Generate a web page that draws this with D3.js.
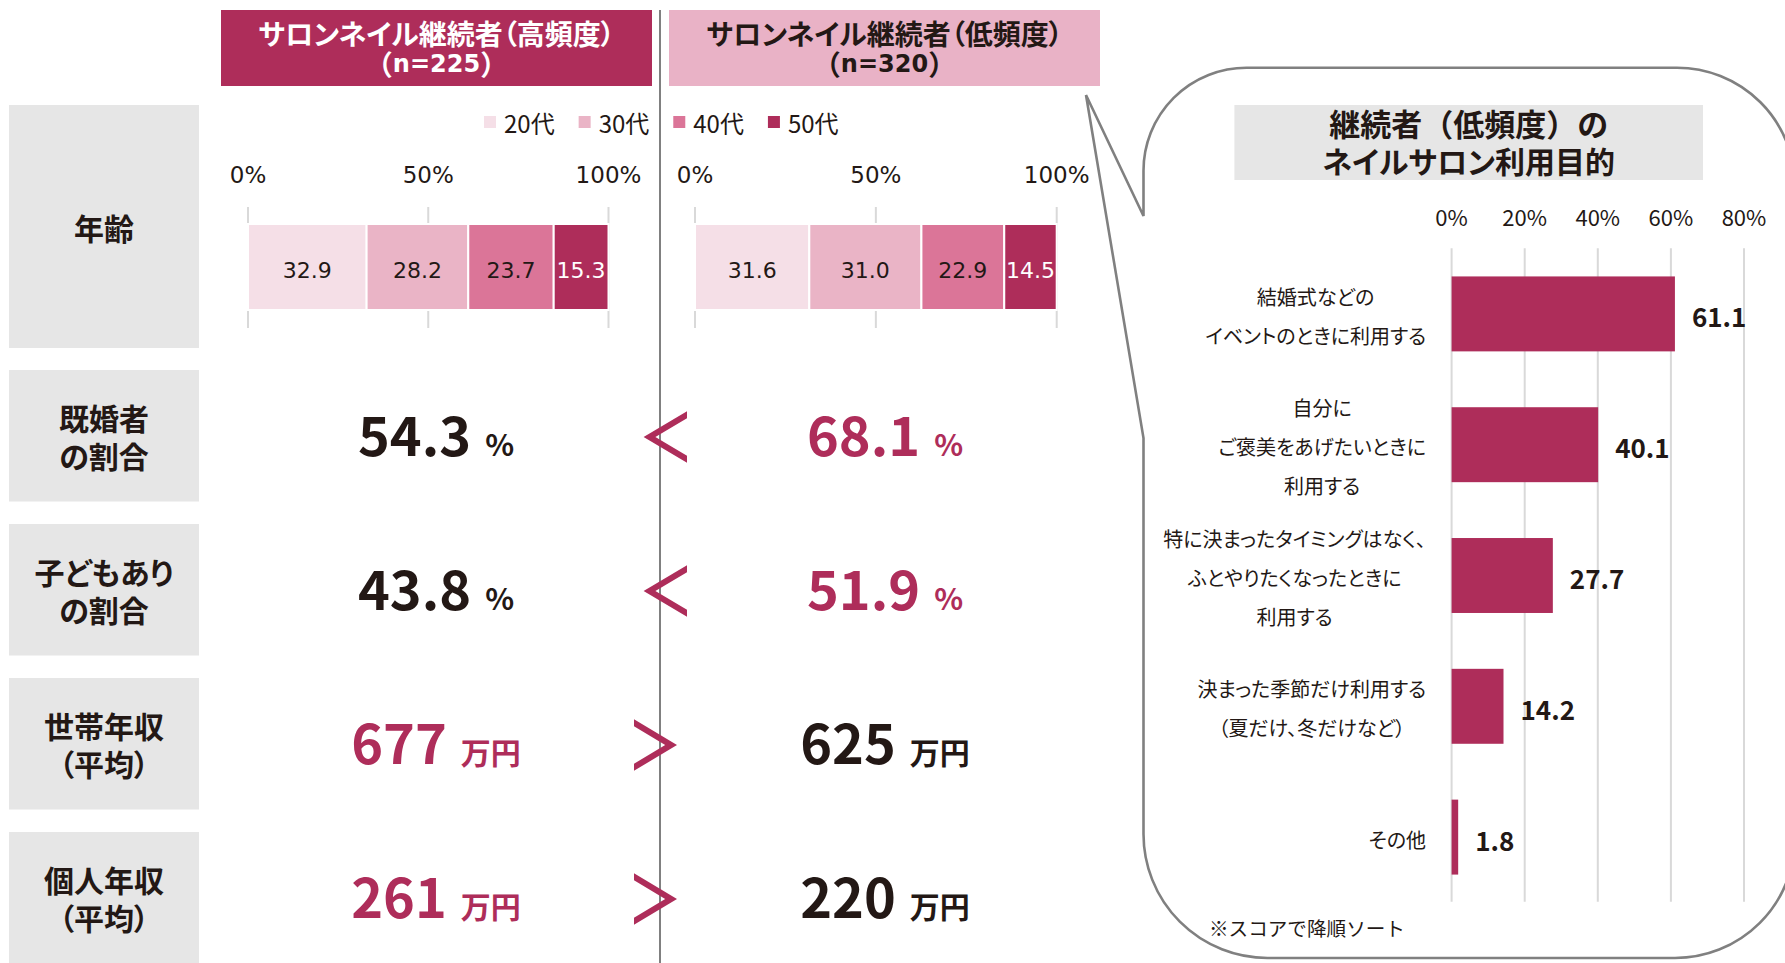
<!DOCTYPE html>
<html><head><meta charset="utf-8">
<script src="https://cdn.jsdelivr.net/npm/d3@7"></script>
<style>
html,body{margin:0;padding:0;background:#fff;}
svg{display:block;font-family:"Noto Sans CJK JP","Noto Sans",sans-serif;font-feature-settings:"palt";}
.nopalt{font-feature-settings:normal;}
</style></head><body>
<svg id="c" width="1785" height="963"></svg>
<script>
// ---------- data ----------
const groupTitles = [["サロンネイル継続者（高頻度）","（n=225）"],["サロンネイル継続者（低頻度）","（n=320）"]];
const ageGroups = ["20代","30代","40代","50代"];
const ageHigh = [32.9,28.2,23.7,15.3];
const ageLow = [31.6,31.0,22.9,14.5];
const ageTicks = [0,50,100];
const rowLabels = [["年齢"],["既婚者","の割合"],["子どもあり","の割合"],["世帯年収","（平均）"],["個人年収","（平均）"]];
const highValues = [54.3,43.8,677,261];
const lowValues = [68.1,51.9,625,220];
const valueUnits = ["%","%","万円","万円"];
const purposeTitle = ["継続者（低頻度）の","ネイルサロン利用目的"];
const purposeLabels = [["結婚式などの","イベントのときに利用する"],["自分に","ご褒美をあげたいときに","利用する"],["特に決まったタイミングはなく、","ふとやりたくなったときに","利用する"],["決まった季節だけ利用する","（夏だけ、冬だけなど）"],["その他"]];
const purposeValues = [61.1,40.1,27.7,14.2,1.8];
const purposeTicks = [0,20,40,60,80];
const footnote = "※スコアで降順ソート";

// ---------- style ----------
const DARK="#231815", CRIM="#ae2d5a", PINK="#e9b2c6", BOXG="#e6e6e6", LINE="#808080", GRID="#d9d9d9";
const ageColors=["#f5dfe7","#eab4c6","#db7598","#ae2d5a"];
const NUMF='"DejaVu Sans",Verdana,sans-serif';

const svg=d3.select("#c");

// multi-line text helper: one <text> with tspans, block centred on cy
function multiText(parent,lines,x,cy,lh){
  const t=parent.append("text").attr("text-anchor","middle");
  const n=lines.length;
  lines.forEach((s,j)=>t.append("tspan").attr("x",x).attr("y",cy+(j-(n-1)/2)*lh)
    .attr("dominant-baseline","central").text(s));
  return t;
}

// ---------- divider ----------
svg.append("line").attr("x1",660).attr("x2",660).attr("y1",10).attr("y2",963)
  .attr("stroke",LINE).attr("stroke-width",2);

// ---------- speech bubble ----------
(function(){
  const L=1143.5,T=67.7,R=1795,B=958, tip=[1086,95];
  const p=d3.path();
  p.moveTo(L,216);
  p.lineTo(L,T+103);
  p.arcTo(L,T,L+103,T,103);
  p.lineTo(R-118,T);
  p.arcTo(R,T,R,T+118,118);
  p.lineTo(R,B-120);
  p.arcTo(R,B,R-120,B,120);
  p.lineTo(L+124,B);
  p.arcTo(L,B,L,B-124,124);
  p.lineTo(L,438);
  p.lineTo(tip[0],tip[1]);
  p.closePath();
  svg.append("path").attr("d",p.toString()).attr("fill","none")
    .attr("stroke",LINE).attr("stroke-width",2.6).attr("stroke-linejoin","miter");
})();

// ---------- group headers ----------
const hdrX=[221,669], hdrW=431;
groupTitles.forEach((t,i)=>{
  const cx=hdrX[i]+hdrW/2, col=i===0?"#fff":DARK;
  svg.append("rect").attr("x",hdrX[i]).attr("y",10).attr("width",hdrW).attr("height",76)
    .attr("fill",i===0?CRIM:PINK);
  svg.append("text").attr("x",cx).attr("y",33).attr("text-anchor","middle").attr("dominant-baseline","central")
    .attr("font-size",28).attr("font-weight",700).attr("fill",col).text(t[0]);
  const m=t[1].match(/^（(.*)）$/);
  const t2=svg.append("text").attr("class","nopalt").attr("x",cx).attr("y",64).attr("text-anchor","middle")
    .attr("dominant-baseline","central").attr("font-size",28).attr("font-weight",700).attr("fill",col);
  if(m){
    t2.append("tspan").text("（");
    t2.append("tspan").attr("font-family",NUMF).attr("font-size",24).text(m[1]);
    t2.append("tspan").text("）");
  } else t2.text(t[1]);
});

// ---------- legend ----------
(function(){
  let x=484;
  ageGroups.forEach((g,i)=>{
    svg.append("rect").attr("x",x).attr("y",116).attr("width",12).attr("height",12).attr("fill",ageColors[i]);
    const t=svg.append("text").attr("x",x+20).attr("y",122).attr("dominant-baseline","central")
      .attr("font-size",24).attr("fill",DARK).text(g);
    x+=20+t.node().getComputedTextLength()+24;
  });
})();

// ---------- row label boxes ----------
const rowBoxes=[[105,243]].concat(d3.range(4).map(i=>[370+i*154,131.5]));
rowLabels.forEach((lab,i)=>{
  const [y,h]=rowBoxes[i];
  svg.append("rect").attr("x",9).attr("y",y).attr("width",190).attr("height",h).attr("fill",BOXG);
  multiText(svg,lab,104,y+h/2,38.5)
    .attr("font-size",30).attr("font-weight",700).attr("fill",DARK);
});

// ---------- age stacked bars ----------
const ageRanges=[[248,608.5],[695,1056.7]];
[ageHigh,ageLow].forEach((vals,gi)=>{
  const x=d3.scaleLinear().domain([0,100]).range(ageRanges[gi]);
  const g=svg.append("g");
  g.selectAll("line.grid").data(ageTicks).join("line")
    .attr("x1",d=>x(d)).attr("x2",d=>x(d)).attr("y1",207).attr("y2",328)
    .attr("stroke",GRID).attr("stroke-width",2);
  g.selectAll("text.tick").data(ageTicks).join("text")
    .attr("x",d=>x(d)).attr("y",175).attr("text-anchor","middle").attr("dominant-baseline","central")
    .attr("font-family",NUMF).attr("font-size",23).attr("fill",DARK).text(d=>d+"%");
  const cum=d3.cumsum(vals), starts=vals.map((v,i)=>cum[i]-v);
  const segs=vals.map((v,i)=>({v,s:starts[i],i}));
  g.selectAll("rect.seg").data(segs).join("rect")
    .attr("x",d=>x(d.s)).attr("width",d=>Math.max(0,Math.min(x(d.s+d.v),x(100))-x(d.s)))
    .attr("y",224).attr("height",86).attr("fill",d=>ageColors[d.i])
    .attr("stroke","#fff").attr("stroke-width",2);
  g.selectAll("text.val").data(segs).join("text")
    .attr("x",d=>(x(d.s)+Math.min(x(d.s+d.v),x(100)))/2).attr("y",270)
    .attr("text-anchor","middle").attr("dominant-baseline","central")
    .attr("font-family",NUMF).attr("font-size",22).attr("fill",d=>d.i===3?"#fff":DARK)
    .text(d=>d.v.toFixed(1));
});

// ---------- comparison rows ----------
const rowY=d3.scaleLinear().domain([0,3]).range([436,898]);
const fmt=(v,u)=>u==="%"?v.toFixed(1):String(v);
function bigValue(cx,cy,v,u,col){
  const t=svg.append("text").attr("x",cx).attr("y",cy+20).attr("text-anchor","middle")
    .attr("font-weight",700).attr("fill",col);
  t.append("tspan").attr("font-size",54).text(fmt(v,u));
  t.append("tspan").attr("font-size",30).attr("dx",14).text(u);
}
highValues.forEach((hv,i)=>{
  const lv=lowValues[i], cy=rowY(i);
  bigValue(436,cy,hv,valueUnits[i],hv>lv?CRIM:DARK);
  bigValue(885,cy,lv,valueUnits[i],lv>hv?CRIM:DARK);
  const t=7, hh=25.8, c=cy+1;
  let pts;
  if(hv<lv){ const x0=643.6,x1=687;
    pts=[[x1,c-hh],[x0,c],[x1,c+hh],[x1,c+hh-t],[x0+11.8,c],[x1,c-hh+t]];
  } else { const x0=677,x1=634;
    pts=[[x1,c-hh],[x0,c],[x1,c+hh],[x1,c+hh-t],[x0-11.8,c],[x1,c-hh+t]];
  }
  svg.append("path").attr("d",d3.line()(pts)+"Z").attr("fill",CRIM);
});

// ---------- purpose chart ----------
svg.append("rect").attr("x",1234.4).attr("y",105).attr("width",468.6).attr("height",75).attr("fill",BOXG);
(function(){
  const t=svg.append("text").attr("text-anchor","middle")
    .attr("font-weight",700).attr("fill",DARK);
  purposeTitle.forEach((s,j)=>t.append("tspan").attr("x",1468.7).attr("y",122+j*38)
    .attr("dominant-baseline","central").attr("font-size",j===0?31:30)
    .style("font-feature-settings",j===0?"normal":"palt").text(s));
})();

const xP=d3.scaleLinear().domain([0,80]).range([1451.6,1744]);
const yP=d3.scaleBand().domain(d3.range(purposeValues.length)).range([248.5,902.5])
  .paddingInner(0.427).paddingOuter(0.2135);
const gp=svg.append("g");
gp.selectAll("line.grid").data(purposeTicks).join("line")
  .attr("x1",d=>xP(d)).attr("x2",d=>xP(d)).attr("y1",248.3).attr("y2",901.7)
  .attr("stroke",GRID).attr("stroke-width",2);
gp.selectAll("text.tick").data(purposeTicks).join("text")
  .attr("x",d=>xP(d)).attr("y",216).attr("text-anchor","middle").attr("dominant-baseline","central")
  .attr("font-size",22).attr("fill",DARK).text(d=>d+"%");
gp.selectAll("rect.bar").data(purposeValues).join("rect")
  .attr("x",xP(0)).attr("y",(d,i)=>yP(i)).attr("width",d=>xP(d)-xP(0)).attr("height",yP.bandwidth())
  .attr("fill",CRIM);
gp.selectAll("text.val").data(purposeValues).join("text")
  .attr("x",d=>xP(d)+17).attr("y",(d,i)=>yP(i)+yP.bandwidth()/2+2)
  .attr("dominant-baseline","central").attr("font-size",26).attr("font-weight",700).attr("fill",DARK)
  .text(d=>d.toFixed(1));
purposeLabels.forEach((lines,i)=>{
  const cy=yP(i)+yP.bandwidth()/2+2;
  const t=multiText(gp,lines,0,cy,39).attr("font-size",20).attr("fill",DARK);
  const spans=t.selectAll("tspan");
  const w=d3.max(spans.nodes(),n=>n.getComputedTextLength());
  spans.attr("x",1426-w/2);
});
svg.append("text").attr("class","nopalt").attr("x",1209).attr("y",927).attr("dominant-baseline","central")
  .attr("font-size",19.6).attr("fill",DARK).text(footnote);
</script>
</body></html>
